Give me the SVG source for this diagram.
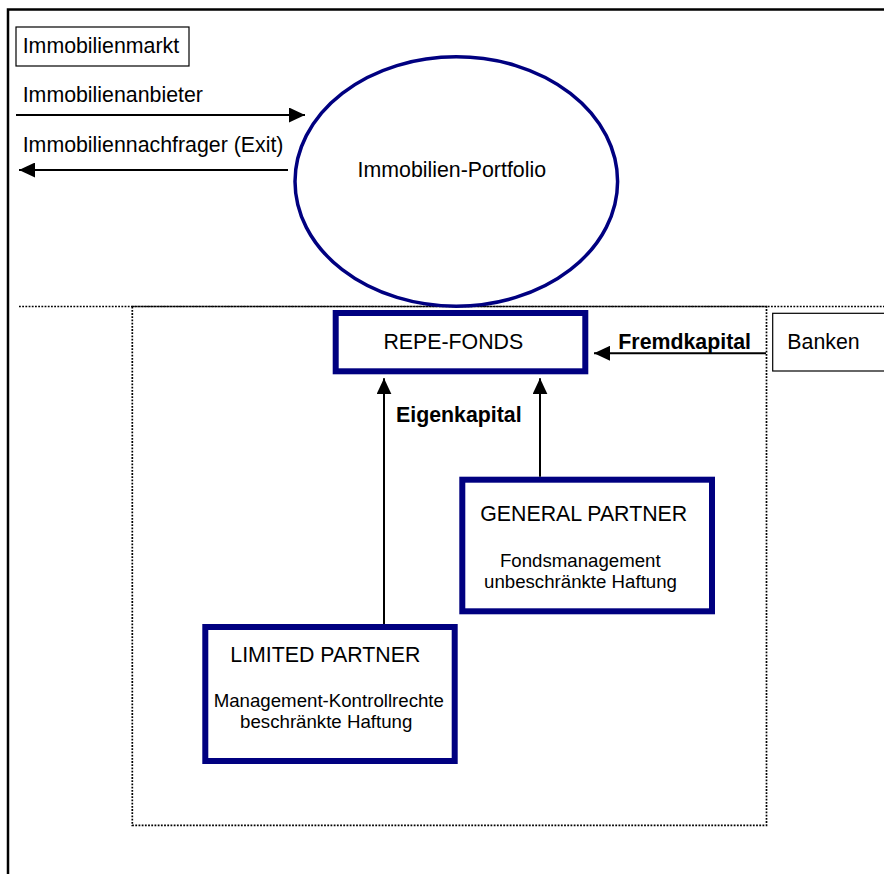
<svg xmlns="http://www.w3.org/2000/svg" width="884" height="874" viewBox="0 0 884 874">
<style>
  text { font-family: "Liberation Sans", Arial, sans-serif; fill: #000; }
  .big { font-size: 21.33px; }
  .small { font-size: 18.67px; }
  .bold { font-weight: bold; }
  .navy { fill: #fff; stroke: #000080; stroke-width: 6; }
  .thin { fill: #fff; stroke: #000; stroke-width: 1.2; }
  .dot { fill: none; stroke: #000; stroke-width: 1.7; stroke-dasharray: 1.8 1.4; }
  .conn { fill: none; stroke: #000; stroke-width: 2; }
</style>
<defs>
  <marker id="arr" viewBox="0 0 16 15" markerUnits="userSpaceOnUse" markerWidth="16" markerHeight="15" refX="16" refY="7.5" orient="auto">
    <path d="M0,0 L16,7.5 L0,15 z" fill="#000"/>
  </marker>
</defs>
<rect width="884" height="874" fill="#fff"/>
<g id="frame">
  <path d="M8,874 V9.5 H884" fill="none" stroke="#000" stroke-width="2.5"/>
  <line class="dot" x1="19" y1="306.5" x2="884" y2="306.5"/>
  <rect class="dot" x="132.3" y="306.5" width="634.2" height="518.8"/>
</g>
<g id="immobilienmarkt">
  <rect class="thin" x="16" y="27" width="173" height="39"/>
  <text class="big" x="22.7" y="53">Immobilienmarkt</text>
</g>
<g id="portfolio">
  <ellipse cx="456.3" cy="181.5" rx="161.3" ry="124.7" fill="none" stroke="#000080" stroke-width="3.5"/>
  <text class="big" x="451.8" y="176.7" text-anchor="middle">Immobilien-Portfolio</text>
</g>
<g id="repe-fonds">
  <rect class="navy" x="335.7" y="313" width="249.6" height="58.3"/>
  <text class="big" x="453.3" y="349" text-anchor="middle">REPE-FONDS</text>
</g>
<g id="banken">
  <rect class="thin" x="772.7" y="313.3" width="120" height="57.7"/>
  <text class="big" x="787.3" y="349">Banken</text>
</g>
<g id="general-partner">
  <rect class="navy" x="462.3" y="479.7" width="249.7" height="131.6"/>
  <text class="big" x="583.7" y="520.7" text-anchor="middle">GENERAL PARTNER</text>
  <text class="small" x="580.3" y="566.7" text-anchor="middle">Fondsmanagement</text>
  <text class="small" x="580.5" y="588.3" text-anchor="middle">unbeschränkte Haftung</text>
</g>
<g id="limited-partner">
  <rect class="navy" x="205.3" y="627" width="249.4" height="134"/>
  <text class="big" x="325.3" y="661.7" text-anchor="middle">LIMITED PARTNER</text>
  <text class="small" x="328.8" y="707.3" text-anchor="middle">Management-Kontrollrechte</text>
  <text class="small" x="326.2" y="728.3" text-anchor="middle">beschränkte Haftung</text>
</g>
<g id="connectors">
  <line class="conn" x1="16" y1="115" x2="305" y2="115" marker-end="url(#arr)"/>
  <text class="big" x="22.7" y="102">Immobilienanbieter</text>
  <line class="conn" x1="288" y1="170" x2="19" y2="170" marker-end="url(#arr)"/>
  <text class="big" x="22.7" y="152">Immobiliennachfrager (Exit)</text>
  <line class="conn" x1="766" y1="353.3" x2="594" y2="353.3" marker-end="url(#arr)"/>
  <text class="big bold" x="618.3" y="349">Fremdkapital</text>
  <line class="conn" x1="384" y1="624" x2="384" y2="378.3" marker-end="url(#arr)"/>
  <line class="conn" x1="540" y1="476.7" x2="540" y2="378.3" marker-end="url(#arr)"/>
  <text class="big bold" x="396" y="421.7">Eigenkapital</text>
</g>
</svg>
